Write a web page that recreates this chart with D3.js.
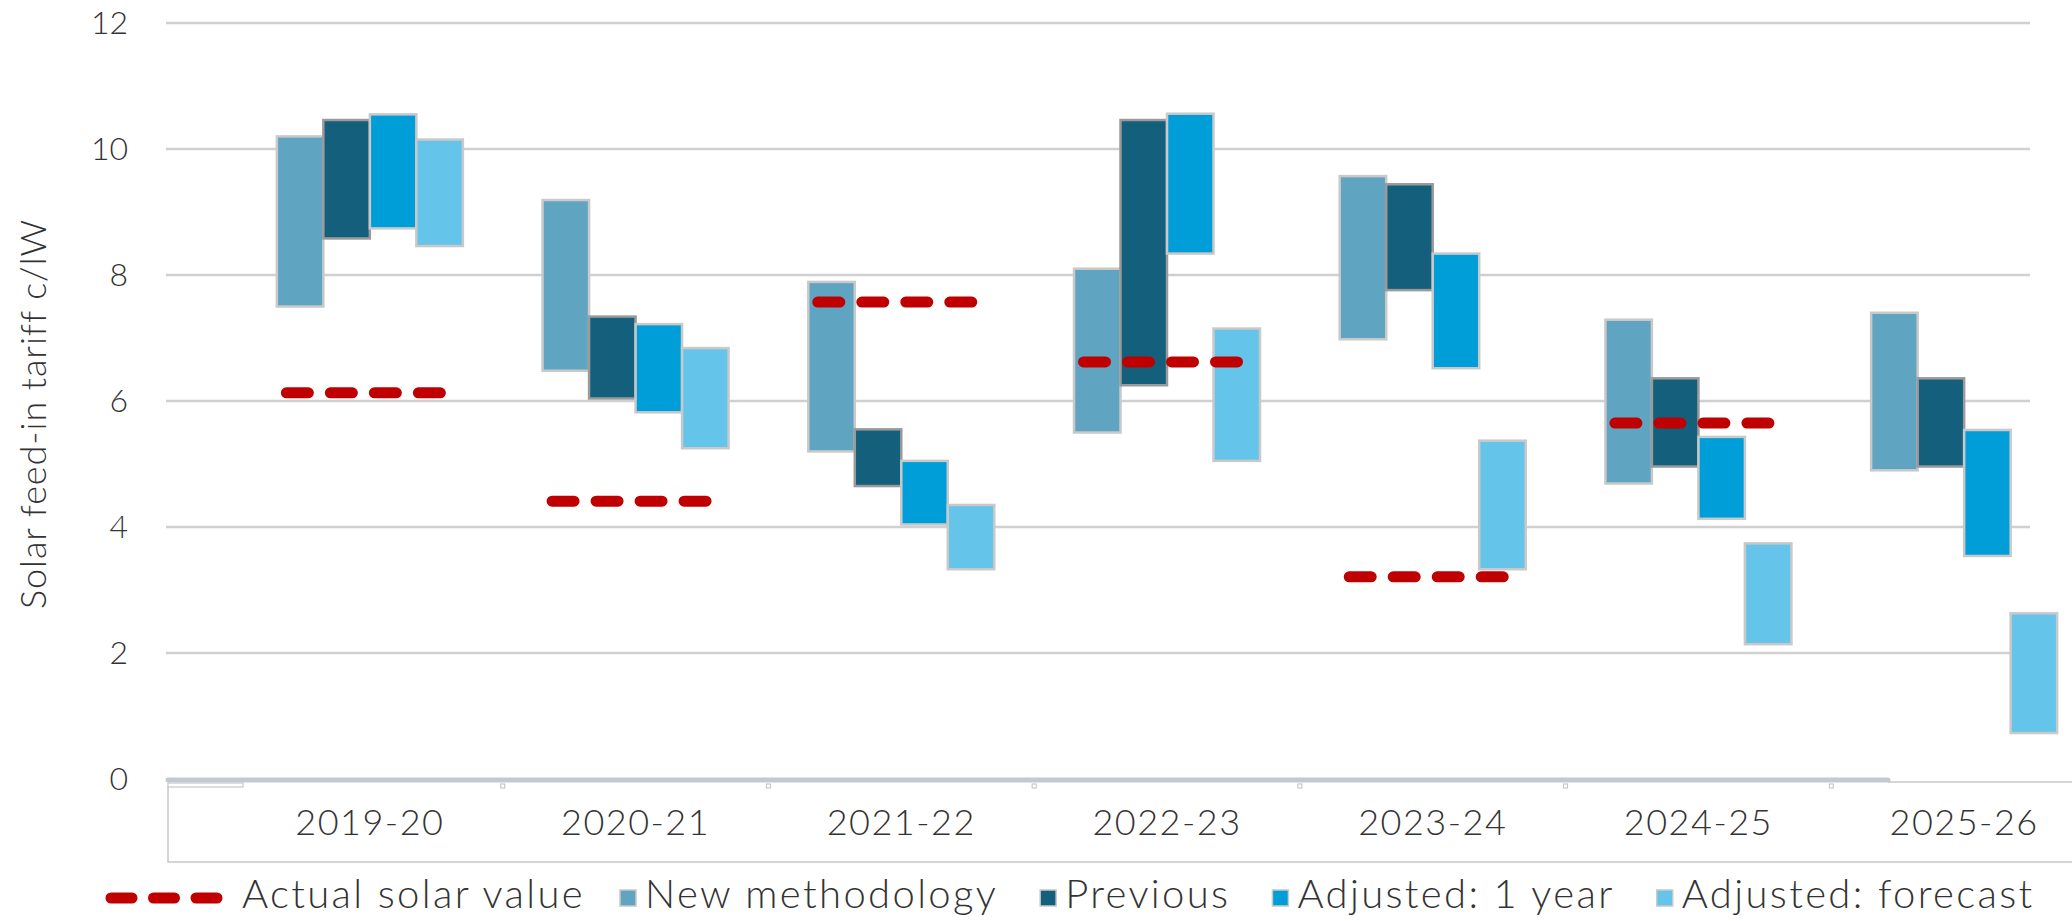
<!DOCTYPE html>
<html>
<head>
<meta charset="utf-8">
<style>
  body { margin: 0; background: #fff; }
  text { font-family: Lato, "Open Sans", sans-serif; font-weight: 300; fill: #333333; }
</style>
</head>
<body>
<div id="chart-area"></div>

<script src="https://cdn.jsdelivr.net/npm/d3@7"></script>
<script>
    // values (c/kWh ranges per year)
    const categories = ["2019-20", "2020-21", "2021-22", "2022-23", "2023-24", "2024-25", "2025-26"];
    const newLow   = [7.50, 6.48, 5.20, 5.50, 6.98, 4.69, 4.90];
    const newHigh  = [10.20, 9.19, 7.89, 8.10, 9.57, 7.29, 7.40];
    const prevLow  = [8.58, 6.04, 4.65, 6.25, 7.76, 4.96, 4.96];
    const prevHigh = [10.46, 7.34, 5.55, 10.46, 9.44, 6.36, 6.36];
    const adj1Low  = [8.74, 5.82, 4.04, 8.34, 6.52, 4.13, 3.54];
    const adj1High = [10.55, 7.22, 5.05, 10.56, 8.34, 5.43, 5.54];
    const fcLow    = [8.46, 5.25, 3.33, 5.05, 3.33, 2.14, 0.73];
    const fcHigh   = [10.15, 6.84, 4.35, 7.15, 5.37, 3.74, 2.63];
    const actual   = [6.13, 4.41, 7.57, 6.62, 3.21, 5.65, null];
    const yTicks   = [0, 2, 4, 6, 8, 10, 12];

    const series = [
        {key: "New methodology",     low: newLow,  high: newHigh,  color: "#5fa4c1", edge: "#c9c9c9"},
        {key: "Previous",            low: prevLow, high: prevHigh, color: "#135f7c", edge: "#9a9a9a"},
        {key: "Adjusted: 1 year",    low: adj1Low, high: adj1High, color: "#009ed9", edge: "#c9c9c9"},
        {key: "Adjusted: forecast",  low: fcLow,   high: fcHigh,   color: "#65c4e9", edge: "#c9c9c9"}
    ];

    const width = 2072;
    const height = 921;

    const svg = d3.select("#chart-area")
        .append("svg")
            .attr("width", width)
            .attr("height", height);

    const y = d3.scaleLinear().domain([0, 12]).range([779, 23]);
    const x = d3.scaleBand().domain(categories).range([237, 2097]);
    const step = x.step();
    const inner = d3.scaleBand().domain(series.map(s => s.key)).range([0, step * 0.7]);
    const groupLeft = c => x(c) + step * 0.15;

    // gridlines
    svg.append("g")
        .selectAll("line")
        .data(yTicks.filter(t => t > 0))
        .join("line")
            .attr("x1", 166)
            .attr("x2", 2030)
            .attr("y1", d => y(d))
            .attr("y2", d => y(d))
            .attr("stroke", "#d0d0d0")
            .attr("stroke-width", 2.5);

    // y axis labels
    const yAxis = svg.append("g")
        .attr("transform", "translate(128,0)")
        .call(d3.axisLeft(y).tickValues(yTicks).tickSize(0).tickPadding(0));
    yAxis.select(".domain").remove();
    yAxis.selectAll("text")
        .style("font-family", "Lato, sans-serif")
        .style("font-weight", "300")
        .style("font-size", "32px")
        .attr("fill", "#333333");

    svg.append("text")
        .attr("transform", "translate(37,414) rotate(-90)")
        .attr("text-anchor", "middle")
        .attr("dominant-baseline", "middle")
        .style("font-size", "36px")
        .style("letter-spacing", "0.9px")
        .text("Solar feed-in tariff c/lW");

    // category box under the axis
    svg.append("path")
        .attr("d", "M168,786 V862 H2072")
        .attr("fill", "none")
        .attr("stroke", "#c8c8c8")
        .attr("stroke-width", 1.5);
    svg.append("rect")
        .attr("x", 168).attr("y", 783)
        .attr("width", 75).attr("height", 4)
        .attr("fill", "none")
        .attr("stroke", "#c8c8c8")
        .attr("stroke-width", 1.2);
    svg.append("line")
        .attr("x1", 1888).attr("x2", 2072)
        .attr("y1", 782).attr("y2", 782)
        .attr("stroke", "#c8c8c8")
        .attr("stroke-width", 1.5);
    svg.append("line")
        .attr("x1", 168).attr("x2", 1888)
        .attr("y1", y(0) + 1).attr("y2", y(0) + 1)
        .attr("stroke", "#c3c9d2")
        .attr("stroke-width", 5)
        .attr("stroke-linecap", "round");

    svg.append("g")
        .selectAll("rect")
        .data(categories.slice(1))
        .join("rect")
            .attr("x", d => x(d) - 2)
            .attr("y", 784)
            .attr("width", 4)
            .attr("height", 4)
            .attr("fill", "#fff")
            .attr("stroke", "#c0c0c0")
            .attr("stroke-width", 1);

    svg.append("g")
        .selectAll("text")
        .data(categories)
        .join("text")
            .attr("x", d => x(d) + step / 2)
            .attr("y", 826)
            .attr("text-anchor", "middle")
            .attr("dominant-baseline", "middle")
            .style("font-size", "36px")
            .style("letter-spacing", "1.5px")
            .text(d => d);

    // floating bars
    series.forEach(s => {
        svg.append("g")
            .selectAll("rect")
            .data(categories.map((c, i) => ({c: c, lo: s.low[i], hi: s.high[i]})))
            .join("rect")
                .attr("x", d => groupLeft(d.c) + inner(s.key))
                .attr("width", inner.bandwidth())
                .attr("y", d => y(d.hi))
                .attr("height", d => y(d.lo) - y(d.hi))
                .attr("fill", s.color)
                .attr("stroke", s.edge)
                .attr("stroke-width", 2.5);
    });

    // actual solar value dashes
    svg.append("g")
        .selectAll("line")
        .data(categories.map((c, i) => ({c: c, v: actual[i]})).filter(d => d.v != null))
        .join("line")
            .attr("x1", d => groupLeft(d.c) + 9.5)
            .attr("x2", d => groupLeft(d.c) + 9.5 + 154)
            .attr("y1", d => y(d.v))
            .attr("y2", d => y(d.v))
            .attr("stroke", "#c00000")
            .attr("stroke-width", 11)
            .attr("stroke-linecap", "round")
            .attr("stroke-dasharray", "22 22");

    // legend
    const legend = svg.append("g").attr("transform", "translate(0,898)");
    legend.append("line")
        .attr("x1", 111).attr("x2", 217)
        .attr("stroke", "#c00000")
        .attr("stroke-width", 11)
        .attr("stroke-linecap", "round")
        .attr("stroke-dasharray", "21 21.5");
    let lx = 242;
    const first = legend.append("text")
        .attr("x", lx)
        .attr("dominant-baseline", "middle")
        .style("font-size", "40px")
        .style("letter-spacing", "2.35px")
        .text("Actual solar value");
    lx += first.node().getComputedTextLength() + 35;
    series.forEach(s => {
        legend.append("rect")
            .attr("x", lx).attr("y", -8)
            .attr("width", 16).attr("height", 16)
            .attr("fill", s.color)
            .attr("stroke", "#c9c9c9")
            .attr("stroke-width", 1.5);
        const t = legend.append("text")
            .attr("x", lx + 25)
            .attr("dominant-baseline", "middle")
            .style("font-size", "40px")
            .style("letter-spacing", "2.35px")
            .text(s.key);
        lx += 25 + t.node().getComputedTextLength() + 42;
    });
</script>
</body>
</html>
